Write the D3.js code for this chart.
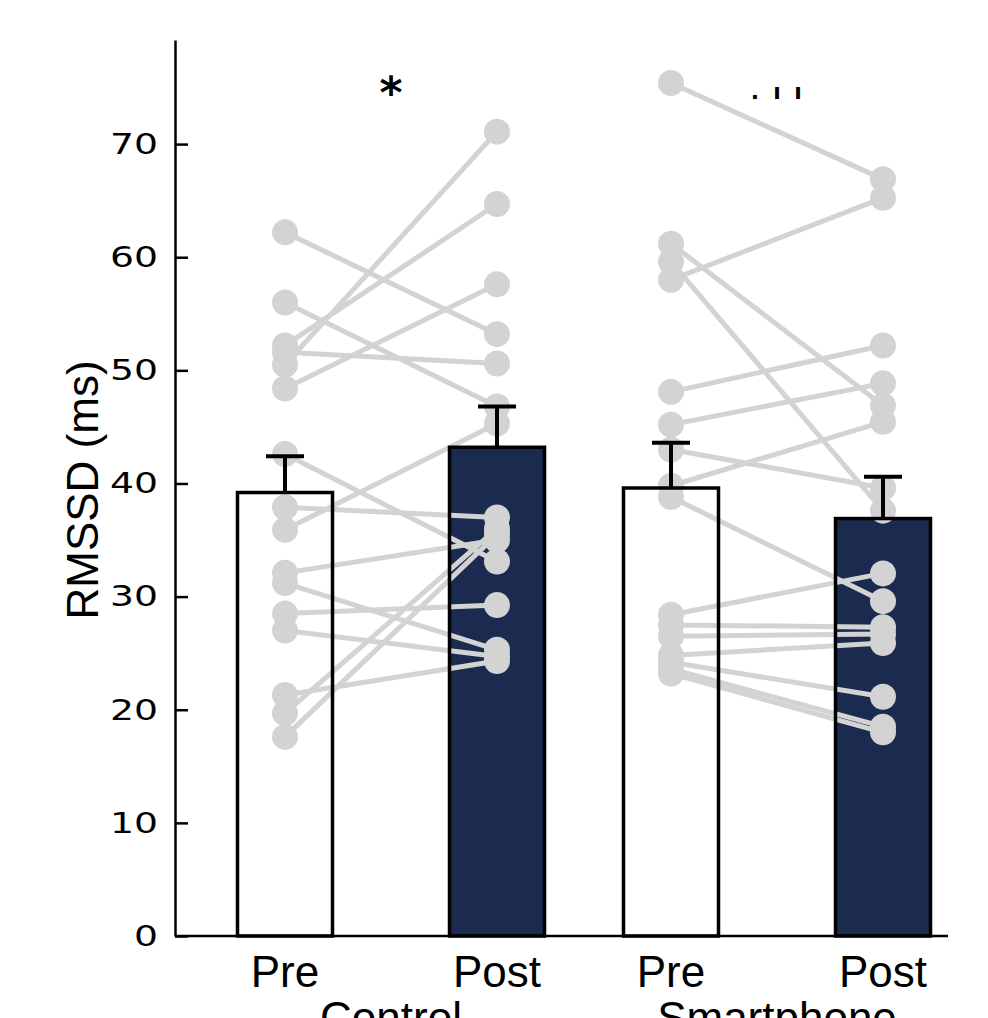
<!DOCTYPE html>
<html><head><meta charset="utf-8">
<script src="https://cdn.jsdelivr.net/npm/d3@7"></script>
<style>body{margin:0;background:#fff}</style>
</head><body><svg id="c" width="988" height="1018"></svg>
<script>
// ---- data ----
const groups = ["Control", "Smartphone"];
const conditions = ["Pre", "Post"];
const controlPre  = [62.2, 56.0, 52.2, 51.6, 50.5, 48.4, 42.6, 37.9, 35.9, 32.1, 31.2, 28.5, 27.0, 21.3, 19.7, 17.6];
const controlPost = [53.2, 46.8, 64.7, 50.6, 71.1, 57.6, 33.1, 37.0, 45.3, 35.0, 25.3, 29.25, 24.7, 24.3, 36.0, 35.5];
const smartPre    = [75.4, 61.2, 59.6, 58.0, 48.1, 45.2, 43.0, 39.8, 38.8, 28.4, 27.5, 26.5, 24.8, 24.2, 23.6, 23.2];
const smartPost   = [66.9, 46.9, 37.6, 65.25, 52.2, 48.85, 39.6, 45.45, 29.6, 32.05, 27.3, 26.7, 25.9, 21.15, 18.5, 18.0];
const controlMeans = [39.2, 43.2];
const controlErr   = [3.2, 3.6];
const smartMeans   = [39.6, 36.9];
const smartErr     = [4.0, 3.7];
const yTicks = [0, 10, 20, 30, 40, 50, 60, 70];
const annotations = ["*", null];

// ---- build tables ----
const subjects = [
  {group: "Control", pre: controlPre, post: controlPost},
  {group: "Smartphone", pre: smartPre, post: smartPost}
].flatMap(g => g.pre.map((v, i) => ({group: g.group, pre: v, post: g.post[i]})));
const bars = [
  ...conditions.map((c, i) => ({group: "Control", cond: c, mean: controlMeans[i], err: controlErr[i]})),
  ...conditions.map((c, i) => ({group: "Smartphone", cond: c, mean: smartMeans[i], err: smartErr[i]}))
];

const svg = d3.select("#c");
const y = d3.scaleLinear().domain([0, 79.2]).range([936, 40]);
const x0 = d3.scaleBand().domain(groups).range([198, 970]);
const x1 = d3.scalePoint().domain(conditions).range([87, 299]);
const cx = (g, c) => x0(g) + x1(c);
const barW = 95;
const navy = "#1b2b50";
const grey = "#d3d3d3";

// bar fills
svg.append("g").selectAll("rect").data(bars).join("rect")
  .attr("x", d => cx(d.group, d.cond) - barW / 2)
  .attr("width", barW)
  .attr("y", d => y(d.mean))
  .attr("height", d => y(0) - y(d.mean))
  .attr("fill", d => d.cond === "Pre" ? "#fff" : navy);

// subject lines
svg.append("g").selectAll("line").data(subjects).join("line")
  .attr("x1", d => cx(d.group, "Pre")).attr("y1", d => y(d.pre))
  .attr("x2", d => cx(d.group, "Post")).attr("y2", d => y(d.post))
  .attr("stroke", grey).attr("stroke-width", 5);

// subject points
const pts = subjects.flatMap(d => [{group: d.group, cond: "Pre", v: d.pre}, {group: d.group, cond: "Post", v: d.post}]);
svg.append("g").selectAll("circle").data(pts).join("circle")
  .attr("cx", d => cx(d.group, d.cond)).attr("cy", d => y(d.v))
  .attr("r", 13).attr("fill", grey);

// bar outlines
svg.append("g").selectAll("rect").data(bars).join("rect")
  .attr("x", d => cx(d.group, d.cond) - barW / 2)
  .attr("width", barW)
  .attr("y", d => y(d.mean))
  .attr("height", d => y(0) - y(d.mean))
  .attr("fill", "none").attr("stroke", "#000").attr("stroke-width", 3.5);

// error bars
const eb = svg.append("g").attr("stroke", "#000").attr("stroke-width", 4);
eb.selectAll("line.v").data(bars).join("line").attr("class", "v")
  .attr("x1", d => cx(d.group, d.cond)).attr("x2", d => cx(d.group, d.cond))
  .attr("y1", d => y(d.mean)).attr("y2", d => y(d.mean + d.err));
eb.selectAll("line.c").data(bars).join("line").attr("class", "c")
  .attr("x1", d => cx(d.group, d.cond) - 19).attr("x2", d => cx(d.group, d.cond) + 19)
  .attr("y1", d => y(d.mean + d.err)).attr("y2", d => y(d.mean + d.err));

// y axis
const yAxis = svg.append("g").attr("transform", "translate(175,0)")
  .call(d3.axisLeft(y).tickValues(yTicks).tickSize(-13).tickSizeOuter(0).tickPadding(17));
yAxis.select(".domain").attr("stroke-width", 2.5);
yAxis.selectAll(".tick line").attr("stroke-width", 2.5);
yAxis.selectAll(".tick text")
  .attr("font-family", "DejaVu Sans").attr("font-size", 29).attr("fill", "#000")
  .attr("x", -17 / 1.3).attr("transform", "scale(1.3,1)");

// x axis line
svg.append("line").attr("x1", 175).attr("x2", 948).attr("y1", y(0)).attr("y2", y(0))
  .attr("stroke", "#000").attr("stroke-width", 2.5);

// condition labels
svg.append("g").selectAll("text").data(bars).join("text")
  .attr("x", d => cx(d.group, d.cond)).attr("y", 987)
  .attr("text-anchor", "middle").attr("font-family", "Liberation Sans").attr("font-size", 44)
  .text(d => d.cond);
// group labels
svg.append("g").selectAll("text").data(groups).join("text")
  .attr("x", d => x0(d) + x0.bandwidth() / 2).attr("y", 1033)
  .attr("text-anchor", "middle").attr("font-family", "Liberation Sans").attr("font-size", 44)
  .text(d => d);

// y label
svg.append("text").attr("transform", "translate(98,490) rotate(-90)")
  .attr("text-anchor", "middle").attr("font-family", "Liberation Sans").attr("font-size", 44)
  .text("RMSSD (ms)");

// annotations
svg.append("text").attr("x", x0("Control") + x0.bandwidth() / 2).attr("y", 108)
  .attr("text-anchor", "middle").attr("font-family", "DejaVu Sans").attr("font-weight", "bold")
  .attr("font-size", 44).text(annotations[0]);
const ann2 = svg.append("text").attr("y", 99).attr("font-family", "DejaVu Sans")
  .attr("font-weight", "bold").attr("font-size", 22).attr("text-anchor", "middle");
const gc = x0("Smartphone") + x0.bandwidth() / 2;
ann2.append("tspan").attr("x", gc - 22).text(".");
ann2.append("tspan").attr("x", gc).text("ı");
ann2.append("tspan").attr("x", gc + 21).text("ı");
</script></body></html>
